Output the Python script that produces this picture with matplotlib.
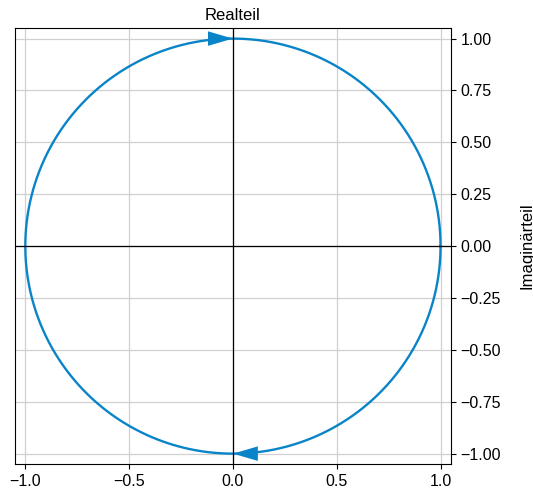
import numpy as np
import matplotlib
matplotlib.use('Agg')
import matplotlib.pyplot as plt

plt.rcParams['font.family'] = ['Liberation Sans', 'DejaVu Sans']
plt.rcParams['font.size'] = 11

radius = 1.0
phi = np.linspace(0, 2 * np.pi, 400)  # Einheitskreis
arrow_tips = [(0.0, 1.0), (0.0, -1.0)]
arrow_dirs = [1, -1]  # oben nach rechts, unten nach links
x_ticks = [-1.0, -0.5, 0.0, 0.5, 1.0]
y_ticks = [-1.0, -0.75, -0.5, -0.25, 0.0, 0.25, 0.5, 0.75, 1.0]
farbe = '#0a84c8'

fig = plt.figure(figsize=(5.33, 4.95), dpi=100)
ax = fig.add_axes([0.028, 0.0626, 0.818, 0.8804])

ax.plot(radius * np.cos(phi), radius * np.sin(phi), color=farbe, lw=1.7)
for (xt, yt), d in zip(arrow_tips, arrow_dirs):
    hl = 0.12
    ax.arrow(xt - d * hl, yt, d * hl, 0, head_width=0.07, head_length=hl,
             length_includes_head=True, color=farbe, lw=0)

ax.axhline(0, color='black', lw=0.9)
ax.axvline(0, color='black', lw=0.9)
ax.set_xlim(-1.05, 1.05)
ax.set_ylim(-1.05, 1.05)
ax.set_xticks(x_ticks)
ax.set_yticks(y_ticks)
ax.set_xticklabels([('%.1f' % v).replace('-', '\u2212') for v in x_ticks])
ax.set_yticklabels([('%.2f' % v).replace('-', '\u2212') for v in y_ticks])
ax.yaxis.tick_right()
ax.yaxis.set_label_position('right')
ax.grid(True, color='#d0d0d0', lw=0.9)
ax.set_axisbelow(True)
ax.set_title('Realteil', fontsize=12, pad=6)
ax.set_ylabel('Imaginärteil', fontsize=12, labelpad=13)
ax.tick_params(labelsize=11.5)

fig.savefig('out.png', dpi=100)
